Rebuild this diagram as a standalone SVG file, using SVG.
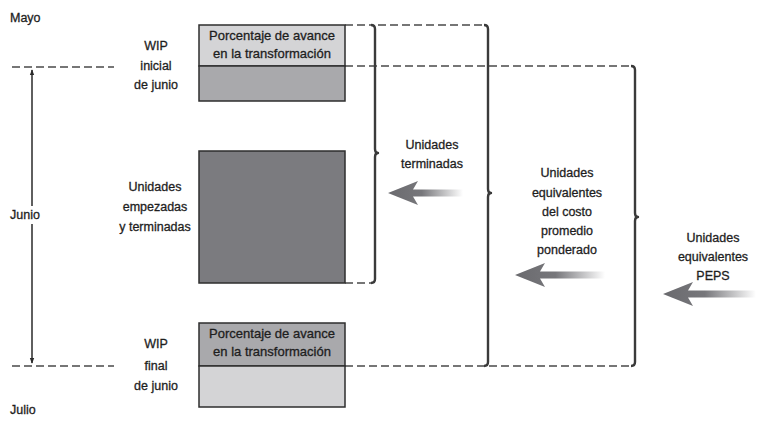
<svg xmlns="http://www.w3.org/2000/svg" width="758" height="421" viewBox="0 0 758 421">
<style>
text{font-family:"Liberation Sans",Arial,sans-serif;font-size:12.5px;fill:#1e1e1e;stroke:#1e1e1e;stroke-width:0.3}
.c{text-anchor:middle}
.hd{font-size:13px}
.dash{fill:none;stroke:#4a4a4a;stroke-width:1.6;stroke-dasharray:8 4}
.brace{fill:none;stroke:#3a3a3a;stroke-width:2.4;stroke-linejoin:round}
.box{stroke:#2e2e2e;stroke-width:1.5}
.light{fill:#d4d4d6}
.mid{fill:#a9a9ac}
.dark{fill:#7b7b7f}
.arrow{fill:url(#g)}
</style>
<defs>
<linearGradient id="g" x1="0" y1="0" x2="1" y2="0">
<stop offset="0" stop-color="#6a6a6e"/>
<stop offset="0.45" stop-color="#77777b"/>
<stop offset="1" stop-color="#ffffff"/>
</linearGradient>
<marker id="ah" viewBox="0 0 8 8" refX="7" refY="4" markerWidth="6" markerHeight="6" orient="auto-start-reverse" markerUnits="userSpaceOnUse">
<path d="M0,1 L8,4 L0,7 Z" fill="#2a2a2a"/>
</marker>
</defs>

<g id="labels-months">
<text x="10" y="22">Mayo</text>
<text x="10" y="219">Junio</text>
<text x="10" y="414">Julio</text>
</g>

<g id="connectors">
<path class="dash" d="M12,67 H114"/>
<path class="dash" d="M12,366 H114"/>
<path class="dash" d="M345,25 H372"/>
<path class="dash" d="M378,25 H485"/>
<path class="dash" d="M345,66 H632"/>
<path class="dash" d="M345,283 H372"/>
<path class="dash" d="M345,366 H632"/>
<path d="M32,70 V206" stroke="#2a2a2a" stroke-width="1.5" marker-start="url(#ah)"/>
<path d="M32,224 V363" stroke="#2a2a2a" stroke-width="1.5" marker-end="url(#ah)"/>
</g>

<g id="wip-inicial">
<text class="c" x="156" y="50">WIP</text>
<text class="c" x="156" y="70">inicial</text>
<text class="c" x="156" y="89">de junio</text>
<rect class="box light" x="199" y="25" width="146" height="41"/>
<rect class="box mid" x="199" y="66" width="146" height="35"/>
<text class="c hd" x="272" y="40">Porcentaje de avance</text>
<text class="c hd" x="272" y="58">en la transformación</text>
</g>

<g id="empezadas-terminadas">
<text class="c" x="155" y="191">Unidades</text>
<text class="c" x="155" y="211">empezadas</text>
<text class="c" x="155" y="231">y terminadas</text>
<rect class="box dark" x="199" y="151" width="146" height="132"/>
</g>

<g id="wip-final">
<text class="c" x="156" y="348">WIP</text>
<text class="c" x="156" y="370">final</text>
<text class="c" x="156" y="390">de junio</text>
<rect class="box mid" x="199" y="323" width="146" height="43"/>
<rect class="box light" x="199" y="366" width="146" height="41"/>
<text class="c hd" x="272" y="338">Porcentaje de avance</text>
<text class="c hd" x="272" y="356">en la transformación</text>
</g>

<g id="unidades-terminadas">
<path class="brace" d="M371,25 Q375,25 375,29 V149 Q375,153 378,153 Q375,153 375,157 V279 Q375,283 371,283"/>
<text class="c" x="432" y="149">Unidades</text>
<text class="c" x="432" y="168">terminadas</text>
<path class="arrow" d="M388,193 L418,181 L413,189.5 H463 V196.5 H413 L418,205 Z"/>
</g>

<g id="costo-promedio">
<path class="brace" d="M484,25 Q488,25 488,29 V189 Q488,193 491,193 Q488,193 488,197 V362 Q488,366 484,366"/>
<text class="c" x="567" y="177">Unidades</text>
<text class="c" x="567" y="197">equivalentes</text>
<text class="c" x="567" y="216">del costo</text>
<text class="c" x="567" y="235">promedio</text>
<text class="c" x="567" y="254">ponderado</text>
<path class="arrow" d="M515,275 L545,263 L540,271.5 H605 V278.5 H540 L545,287 Z"/>
</g>

<g id="peps">
<path class="brace" d="M631,66 Q635,66 635,70 V213 Q635,217 638,217 Q635,217 635,221 V362 Q635,366 631,366"/>
<text class="c" x="713" y="242">Unidades</text>
<text class="c" x="713" y="261">equivalentes</text>
<text class="c" x="713" y="280">PEPS</text>
<path class="arrow" d="M663,294 L693,282 L688,290.5 H756 V297.5 H688 L693,306 Z"/>
</g>
</svg>
